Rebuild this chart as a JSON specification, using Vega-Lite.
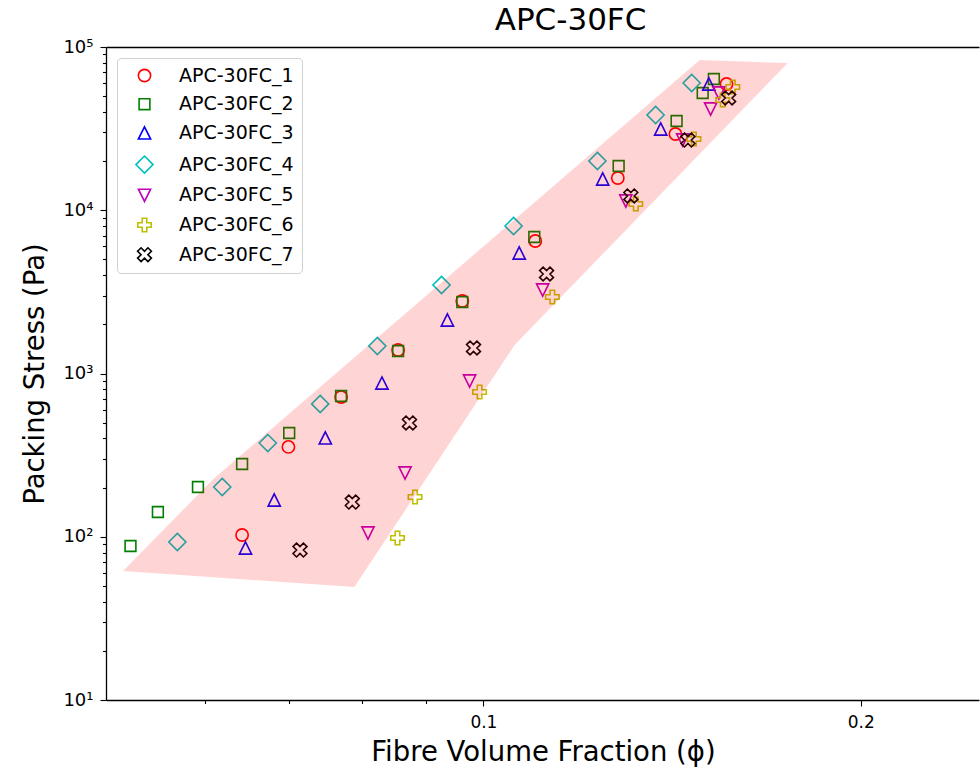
{
  "$schema": "https://vega.github.io/schema/vega-lite/v6.json",
  "width": 873,
  "height": 653,
  "autosize": {"type": "none"},
  "padding": {"left": 106, "top": 47, "right": 1, "bottom": 68},
  "background": "white",
  "config": {
    "font": "DejaVu Sans",
    "view": {"stroke": null},
    "axis": {"grid": false, "domainColor": "#000", "domainWidth": 1.3, "tickColor": "#000", "tickWidth": 1.1, "labelColor": "#000", "titleColor": "#000", "labelFont": "DejaVu Sans", "titleFont": "DejaVu Sans", "titleFontWeight": "normal", "labelFontSize": 17, "titleFontSize": 27.5, "labelOverlap": false, "labelFlush": false},
    "legend": {"orient": "top-left", "offset": 11, "labelFont": "DejaVu Sans", "labelFontSize": 19, "labelColor": "#000", "symbolSize": 150, "symbolStrokeWidth": 1.6, "fillColor": "white", "strokeColor": "#d0d0d0", "cornerRadius": 4, "padding": 8, "rowPadding": 8.7, "labelOffset": 25, "symbolOffset": 10, "labelLimit": 300}
  },
  "title": {"text": "APC-30FC", "fontSize": 31, "font": "DejaVu Sans", "fontWeight": "normal", "color": "#000", "anchor": "middle", "dx": 28, "dy": 34, "offset": 11, "baseline": "alphabetic"},
  "datasets": {
    "pts": [
      {"s": "APC-30FC_1", "x": 0.0642, "y": 102.5},
      {"s": "APC-30FC_1", "x": 0.0699, "y": 355},
      {"s": "APC-30FC_1", "x": 0.0770, "y": 718},
      {"s": "APC-30FC_1", "x": 0.0855, "y": 1393},
      {"s": "APC-30FC_1", "x": 0.0962, "y": 2780},
      {"s": "APC-30FC_1", "x": 0.1100, "y": 6480},
      {"s": "APC-30FC_1", "x": 0.1280, "y": 15760},
      {"s": "APC-30FC_1", "x": 0.1423, "y": 29310},
      {"s": "APC-30FC_1", "x": 0.1563, "y": 59340},
      {"s": "APC-30FC_2", "x": 0.0523, "y": 87.8},
      {"s": "APC-30FC_2", "x": 0.0550, "y": 141.8},
      {"s": "APC-30FC_2", "x": 0.0592, "y": 201.7},
      {"s": "APC-30FC_2", "x": 0.0642, "y": 279},
      {"s": "APC-30FC_2", "x": 0.0700, "y": 432},
      {"s": "APC-30FC_2", "x": 0.0770, "y": 728},
      {"s": "APC-30FC_2", "x": 0.0855, "y": 1373},
      {"s": "APC-30FC_2", "x": 0.0962, "y": 2742},
      {"s": "APC-30FC_2", "x": 0.1098, "y": 6855},
      {"s": "APC-30FC_2", "x": 0.1282, "y": 18660},
      {"s": "APC-30FC_2", "x": 0.1426, "y": 35210},
      {"s": "APC-30FC_2", "x": 0.1496, "y": 52250},
      {"s": "APC-30FC_2", "x": 0.1527, "y": 63680},
      {"s": "APC-30FC_3", "x": 0.0646, "y": 85.3},
      {"s": "APC-30FC_3", "x": 0.0681, "y": 168},
      {"s": "APC-30FC_3", "x": 0.0748, "y": 403},
      {"s": "APC-30FC_3", "x": 0.0830, "y": 874},
      {"s": "APC-30FC_3", "x": 0.0936, "y": 2127},
      {"s": "APC-30FC_3", "x": 0.1068, "y": 5470},
      {"s": "APC-30FC_3", "x": 0.1245, "y": 15540},
      {"s": "APC-30FC_3", "x": 0.1385, "y": 31460},
      {"s": "APC-30FC_3", "x": 0.1513, "y": 59340},
      {"s": "APC-30FC_4", "x": 0.0570, "y": 92.9},
      {"s": "APC-30FC_4", "x": 0.0619, "y": 201.7},
      {"s": "APC-30FC_4", "x": 0.0673, "y": 375},
      {"s": "APC-30FC_4", "x": 0.0741, "y": 651},
      {"s": "APC-30FC_4", "x": 0.0823, "y": 1474},
      {"s": "APC-30FC_4", "x": 0.0926, "y": 3484},
      {"s": "APC-30FC_4", "x": 0.1057, "y": 8007},
      {"s": "APC-30FC_4", "x": 0.1233, "y": 20030},
      {"s": "APC-30FC_4", "x": 0.1372, "y": 38320},
      {"s": "APC-30FC_4", "x": 0.1466, "y": 60190},
      {"s": "APC-30FC_5", "x": 0.0809, "y": 105.4},
      {"s": "APC-30FC_5", "x": 0.0866, "y": 245.8},
      {"s": "APC-30FC_5", "x": 0.0975, "y": 899.5},
      {"s": "APC-30FC_5", "x": 0.1115, "y": 3247},
      {"s": "APC-30FC_5", "x": 0.1299, "y": 11390},
      {"s": "APC-30FC_5", "x": 0.1442, "y": 26920},
      {"s": "APC-30FC_5", "x": 0.1518, "y": 41690},
      {"s": "APC-30FC_5", "x": 0.1541, "y": 52250},
      {"s": "APC-30FC_6", "x": 0.0854, "y": 98.2},
      {"s": "APC-30FC_6", "x": 0.0882, "y": 175.2},
      {"s": "APC-30FC_6", "x": 0.0993, "y": 770},
      {"s": "APC-30FC_6", "x": 0.1135, "y": 2941},
      {"s": "APC-30FC_6", "x": 0.1323, "y": 10920},
      {"s": "APC-30FC_6", "x": 0.1472, "y": 27320},
      {"s": "APC-30FC_6", "x": 0.1552, "y": 47350},
      {"s": "APC-30FC_6", "x": 0.1581, "y": 56880},
      {"s": "APC-30FC_7", "x": 0.0714, "y": 82.9},
      {"s": "APC-30FC_7", "x": 0.0786, "y": 163.2},
      {"s": "APC-30FC_7", "x": 0.0873, "y": 497.6},
      {"s": "APC-30FC_7", "x": 0.0982, "y": 1433},
      {"s": "APC-30FC_7", "x": 0.1123, "y": 4069},
      {"s": "APC-30FC_7", "x": 0.1311, "y": 12230},
      {"s": "APC-30FC_7", "x": 0.1456, "y": 26920},
      {"s": "APC-30FC_7", "x": 0.1569, "y": 48700}
    ],
    "poly": [
      {"i": 0, "x": 0.0516, "y": 61.7},
      {"i": 1, "x": 0.0609, "y": 226},
      {"i": 2, "x": 0.1488, "y": 83200},
      {"i": 3, "x": 0.1749, "y": 79800},
      {"i": 4, "x": 0.1059, "y": 1495},
      {"i": 5, "x": 0.0789, "y": 49.2}
    ]
  },
  "layer": [
    {
      "data": {"name": "pts"},
      "mark": {"type": "point", "filled": false, "strokeWidth": 1.6, "size": 150, "opacity": 1},
      "encoding": {
        "x": {
          "field": "x", "type": "quantitative",
          "scale": {"type": "log", "domain": [0.05, 0.2485], "nice": false},
          "axis": {
            "orient": "bottom",
            "values": [0.06, 0.07, 0.08, 0.09, 0.1, 0.2],
            "labelExpr": "datum.value == 0.1 ? '0.1' : datum.value == 0.2 ? '0.2' : ''",
            "tickSize": {"condition": {"test": "datum.value == 0.1 || datum.value == 0.2", "value": 6}, "value": 3.5},
            "labelPadding": 8,
            "title": "Fibre Volume Fraction (ϕ)",
            "titleX": 437, "titleY": 60, "titleBaseline": "alphabetic", "titleAlign": "center"
          }
        },
        "y": {
          "field": "y", "type": "quantitative",
          "scale": {"type": "log", "domain": [10, 100000], "nice": false},
          "axis": {
            "orient": "left",
            "values": [10, 20, 30, 40, 50, 60, 70, 80, 90, 100, 200, 300, 400, 500, 600, 700, 800, 900, 1000, 2000, 3000, 4000, 5000, 6000, 7000, 8000, 9000, 10000, 20000, 30000, 40000, 50000, 60000, 70000, 80000, 90000, 100000],
            "labelExpr": "datum.value == 10 ? '10¹' : datum.value == 100 ? '10²' : datum.value == 1000 ? '10³' : datum.value == 10000 ? '10⁴' : datum.value == 100000 ? '10⁵' : ''",
            "tickSize": {"condition": {"test": "indexof([10,100,1000,10000,100000], datum.value) >= 0", "value": 6}, "value": 3.5},
            "labelPadding": 7,
            "labelFontSize": 18,
            "title": "Packing Stress (Pa)",
            "titleX": -63, "titleY": 326.5, "titleAngle": -90, "titleBaseline": "alphabetic", "titleAlign": "center"
          }
        },
        "color": {
          "field": "s", "type": "nominal",
          "scale": {"domain": ["APC-30FC_1", "APC-30FC_2", "APC-30FC_3", "APC-30FC_4", "APC-30FC_5", "APC-30FC_6", "APC-30FC_7"], "range": ["#ff0000", "#008000", "#0000ff", "#00bfbf", "#bf00bf", "#bfbf00", "#000000"]},
          "legend": {"title": null}
        },
        "shape": {
          "field": "s", "type": "nominal",
          "scale": {"domain": ["APC-30FC_1", "APC-30FC_2", "APC-30FC_3", "APC-30FC_4", "APC-30FC_5", "APC-30FC_6", "APC-30FC_7"], "range": ["circle", "M-0.88,-0.88H0.88V0.88H-0.88Z", "M0,-1L1,1L-1,1Z", "M0,-1.4L1.4,0L0,1.4L-1.4,0Z", "M0,1L1,-1L-1,-1Z", "M-0.37,-1.1H0.37V-0.37H1.1V0.37H0.37V1.1H-0.37V0.37H-1.1V-0.37H-0.37Z", "M1.13,-0.56L0.56,0L1.13,0.56L0.56,1.13L0,0.56L-0.56,1.13L-1.13,0.56L-0.56,0L-1.13,-0.56L-0.56,-1.13L0,-0.56L0.56,-1.13Z"]},
          "legend": {"title": null}
        }
      }
    },
    {
      "data": {"name": "poly"},
      "mark": {"type": "line", "interpolate": "linear-closed", "fill": "#ff0000", "fillOpacity": 0.17, "strokeOpacity": 0, "strokeWidth": 0},
      "encoding": {
        "x": {"field": "x", "type": "quantitative", "axis": {"orient": "top", "labels": false, "ticks": false, "title": null, "domain": true}},
        "y": {
          "field": "y", "type": "quantitative",
          "axis": {
            "orient": "left",
            "values": [10, 20, 30, 40, 50, 60, 70, 80, 90, 100, 200, 300, 400, 500, 600, 700, 800, 900, 1000, 2000, 3000, 4000, 5000, 6000, 7000, 8000, 9000, 10000, 20000, 30000, 40000, 50000, 60000, 70000, 80000, 90000, 100000],
            "labelExpr": "datum.value == 10 ? '10¹' : datum.value == 100 ? '10²' : datum.value == 1000 ? '10³' : datum.value == 10000 ? '10⁴' : datum.value == 100000 ? '10⁵' : ''",
            "tickSize": {"condition": {"test": "indexof([10,100,1000,10000,100000], datum.value) >= 0", "value": 6}, "value": 3.5},
            "labelPadding": 7,
            "labelFontSize": 18,
            "title": "Packing Stress (Pa)",
            "titleX": -63, "titleY": 326.5, "titleAngle": -90, "titleBaseline": "alphabetic", "titleAlign": "center"
          }
        },
        "order": {"field": "i", "type": "quantitative"}
      }
    }
  ],
  "resolve": {"axis": {"x": "independent"}}
}
